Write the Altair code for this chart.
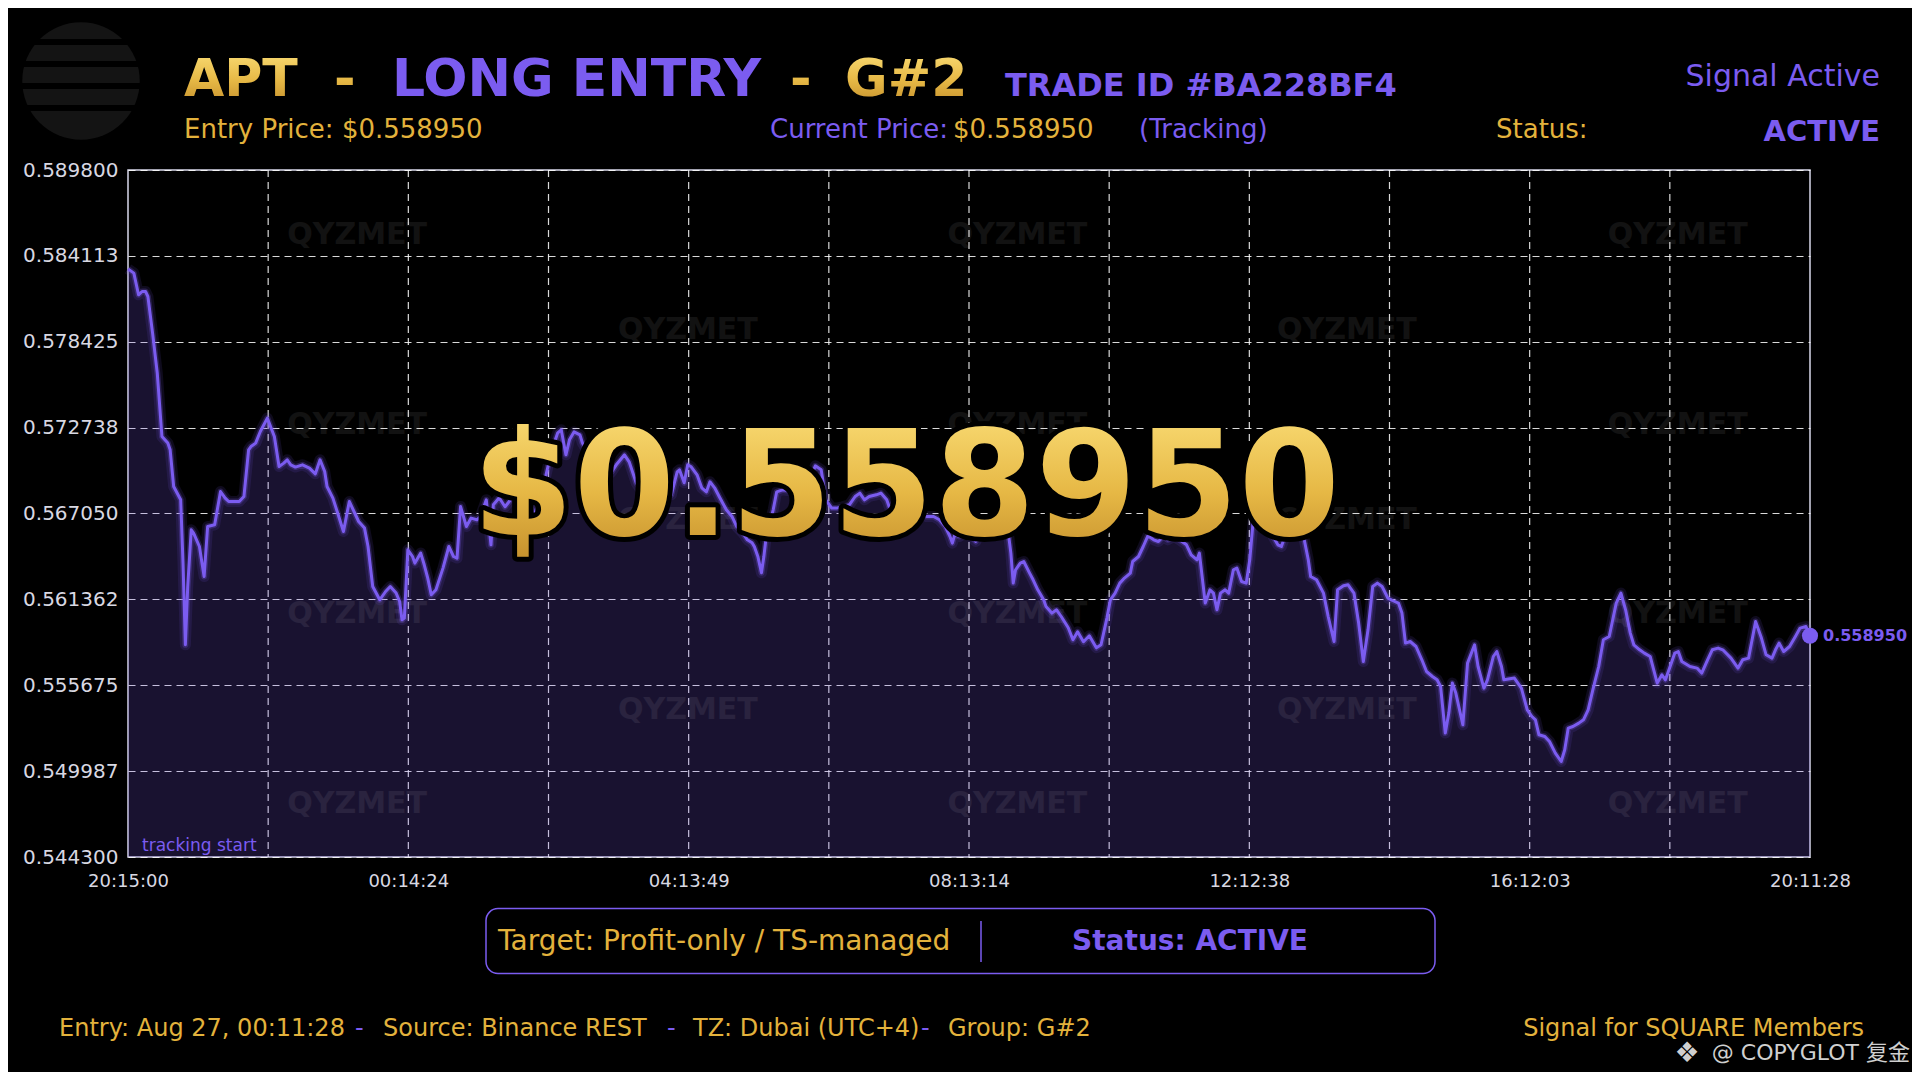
import json
import altair as alt
import pandas as pd

# ---------------- data ----------------
minutes = [
    0, 5, 9, 12, 15, 17, 21, 25, 29, 34,
    36, 39, 45, 47, 49, 51, 54, 56, 61, 65,
    68, 74, 79, 83, 86, 95, 99, 103, 105, 109,
    113, 119, 125, 129, 133, 136, 139, 143, 149, 155,
    160, 164, 168, 170, 175, 180, 184, 189, 193, 197,
    202, 205, 209, 215, 220, 224, 229, 232, 234, 236,
    239, 243, 245, 250, 253, 256, 259, 263, 269, 274,
    278, 281, 284, 289, 293, 298, 301, 306, 310, 312,
    317, 322, 330, 339, 346, 350, 356, 362, 367, 370,
    374, 377, 381, 386, 388, 394, 401, 407, 413, 417,
    424, 428, 434, 441, 450, 458, 464, 469, 471, 475,
    478, 481, 486, 490, 494, 497, 501, 505, 511, 516,
    520, 525, 529, 533, 535, 538, 541, 543, 545, 551,
    554, 559, 565, 574, 582, 587, 592, 596, 601, 605,
    610, 616, 621, 625, 629, 633, 639, 643, 648, 650,
    655, 663, 672, 679, 682, 688, 693, 698, 702, 704,
    706, 710, 716, 720, 724, 726, 732, 740, 747, 752,
    754, 756, 758, 762, 765, 770, 773, 777, 782, 784,
    789, 793, 797, 803, 807, 811, 816, 821, 827, 831,
    836, 839, 843, 847, 851, 856, 858, 863, 867, 871,
    876, 880, 884, 888, 893, 898, 904, 908, 913, 915,
    920, 924, 927, 930, 933, 937, 940, 944, 947, 951,
    955, 958, 961, 965, 969, 974, 978, 982, 985, 988,
    992, 997, 1004, 1008, 1010, 1015, 1021, 1025, 1030, 1033,
    1038, 1042, 1047, 1051, 1055, 1059, 1063, 1067, 1071, 1076,
    1080, 1085, 1088, 1091, 1095, 1100, 1105, 1109, 1114, 1118,
    1121, 1125, 1128, 1131, 1134, 1140, 1144, 1150, 1153, 1158,
    1161, 1166, 1169, 1173, 1175, 1184, 1190, 1195, 1199, 1202,
    1205, 1210, 1214, 1219, 1224, 1227, 1230, 1234, 1239, 1243,
    1247, 1251, 1256, 1260, 1265, 1268, 1271, 1275, 1279, 1283,
    1286, 1291, 1295, 1300, 1303, 1306, 1310, 1313, 1317, 1321,
    1324, 1327, 1334, 1340, 1344, 1349, 1353, 1358, 1362, 1369,
    1375, 1379, 1384, 1390, 1395, 1399, 1404, 1407, 1410, 1414,
    1419, 1424, 1428, 1433, 1436.47,
]

prices = [
    0.583250, 0.582972, 0.581534, 0.581753, 0.581753, 0.581422, 0.578998, 0.576349, 0.572150, 0.571713,
    0.571269, 0.568838, 0.567957, 0.563765, 0.558354, 0.562215, 0.565970, 0.565752, 0.564864, 0.562878,
    0.566189, 0.566302, 0.568507, 0.568070, 0.567845, 0.567845, 0.568176, 0.571269, 0.571487, 0.571713,
    0.572481, 0.573368, 0.572150, 0.570163, 0.570388, 0.570606, 0.570275, 0.570123, 0.570275, 0.570057,
    0.569679, 0.570606, 0.569832, 0.568838, 0.568070, 0.566851, 0.565858, 0.567845, 0.567182, 0.566520,
    0.566083, 0.564864, 0.562215, 0.561334, 0.561884, 0.562215, 0.561778, 0.561222, 0.560010, 0.560123,
    0.564646, 0.564202, 0.563765, 0.564427, 0.563652, 0.562772, 0.561665, 0.561997, 0.563434, 0.564864,
    0.564202, 0.564096, 0.567514, 0.566189, 0.566745, 0.566633, 0.566851, 0.567957, 0.564977, 0.567626,
    0.568090, 0.567494, 0.568288, 0.569282, 0.567295, 0.565970, 0.569282, 0.571269, 0.572395, 0.572593,
    0.570938, 0.571931, 0.572461, 0.572262, 0.571733, 0.570938, 0.569944, 0.569414, 0.569812, 0.570275,
    0.570938, 0.570474, 0.569083, 0.568288, 0.567957, 0.568620, 0.568288, 0.569812, 0.569944, 0.569083,
    0.570275, 0.570143, 0.569613, 0.568752, 0.568487, 0.569150, 0.568752, 0.568156, 0.567295, 0.566831,
    0.566169, 0.565772, 0.565308, 0.565109, 0.564845, 0.564182, 0.563123, 0.564182, 0.565507, 0.567295,
    0.568487, 0.568620, 0.568553, 0.568620, 0.569282, 0.570209, 0.569944, 0.567957, 0.567407, 0.567407,
    0.567494, 0.567626, 0.568176, 0.568401, 0.567957, 0.568176, 0.568288, 0.568401, 0.567957, 0.567514,
    0.567295, 0.567163, 0.567030, 0.566964, 0.566851, 0.566851, 0.566633, 0.566189, 0.565527, 0.565089,
    0.565639, 0.565527, 0.565858, 0.565527, 0.565195, 0.565527, 0.565970, 0.566302, 0.566103, 0.565639,
    0.564427, 0.562440, 0.563321, 0.563765, 0.563871, 0.563103, 0.562659, 0.561997, 0.561334, 0.560891,
    0.560453, 0.560672, 0.560228, 0.559480, 0.558685, 0.559215, 0.558553, 0.558950, 0.558155, 0.558354,
    0.560122, 0.561334, 0.561778, 0.562440, 0.562772, 0.563103, 0.563871, 0.564202, 0.564864, 0.565573,
    0.565308, 0.565195, 0.565527, 0.565308, 0.565527, 0.565308, 0.564977, 0.564315, 0.563983, 0.564427,
    0.561116, 0.561997, 0.561778, 0.560672, 0.561778, 0.561997, 0.561778, 0.563321, 0.563434, 0.562546,
    0.562440, 0.563983, 0.566633, 0.567626, 0.567957, 0.566964, 0.565527, 0.564977, 0.564864, 0.565527,
    0.565970, 0.566302, 0.565527, 0.563983, 0.562878, 0.562659, 0.561778, 0.560228, 0.558573, 0.561997,
    0.562261, 0.562328, 0.561778, 0.559791, 0.557248, 0.559347, 0.562215, 0.562440, 0.562215, 0.561447,
    0.561288, 0.561116, 0.560453, 0.558467, 0.558573, 0.558242, 0.557361, 0.556586, 0.556255, 0.556036,
    0.555592, 0.552506, 0.553830, 0.555817, 0.555155, 0.553056, 0.557142, 0.558354, 0.556917, 0.555486,
    0.556036, 0.557579, 0.557910, 0.556917, 0.556036, 0.556149, 0.555486, 0.554049, 0.553605, 0.553387,
    0.552393, 0.552281, 0.551949, 0.551181, 0.550625, 0.551400, 0.552837, 0.552943, 0.553168, 0.553387,
    0.554049, 0.555374, 0.556917, 0.558685, 0.558904, 0.560010, 0.561116, 0.561778, 0.560672, 0.559129,
    0.558354, 0.558022, 0.557804, 0.557579, 0.556698, 0.555817, 0.556367, 0.556036, 0.556917, 0.557804,
    0.557910, 0.557248, 0.556917, 0.556811, 0.556480, 0.557361, 0.558022, 0.558135, 0.558022, 0.557473,
    0.556811, 0.557361, 0.557473, 0.559897, 0.558798, 0.557692, 0.557473, 0.558022, 0.558467, 0.557910,
    0.558242, 0.558904, 0.559460, 0.559566, 0.558950,
]

y_tick_values = [0.5443, 0.549987, 0.555675, 0.561362, 0.56705, 0.572738, 0.578425, 0.584113, 0.5898]
x_tick_values = [0, 239.412, 478.824, 718.235, 957.647, 1197.059, 1436.47]
x_tick_labels = ["20:15:00", "00:14:24", "04:13:49", "08:13:14", "12:12:38", "16:12:03", "20:11:28"]
x_grid_values = [119.706, 239.412, 359.118, 478.824, 598.529, 718.235,
                 837.941, 957.647, 1077.353, 1197.059, 1316.765]

symbol = "APT"
side = "LONG ENTRY"
group = "G#2"
trade_id = "#BA228BF4"
current_price = 0.558950
entry_price = 0.558950
entry_time = "Aug 27, 00:11:28"
source = "Binance REST"
tz = "Dubai (UTC+4)"

# watermark layout (data units)
wm_minutes = [195.7, 478.1, 759.5, 1041.0, 1323.5]
wm_prices = [0.585508, 0.579177, 0.572925, 0.566606, 0.560361, 0.554036, 0.547791]

# ---------------- styling ----------------
FONT = "DejaVu Sans"
PURPLE = "#7B5CF0"
GOLD = "#E3B23C"
AXIS_LABEL = "#d8d8e2"
W, H = 1682, 687

GOLD_GRAD = alt.Gradient(
    gradient="linear",
    stops=[alt.GradientStop(color="#FCE07A", offset=0),
           alt.GradientStop(color="#E6B845", offset=0.55),
           alt.GradientStop(color="#C28C2A", offset=1)],
    x1=0, x2=0, y1=0, y2=1,
)

df = pd.DataFrame({"m": minutes, "p": prices})

xs = alt.Scale(domain=[0, 1436.47], nice=False, zero=False)
ys = alt.Scale(domain=[0.5443, 0.5898], nice=False, zero=False)

label_expr = f"{json.dumps(x_tick_labels)}[indexof({json.dumps(x_tick_values)}, datum.value)]"
x_axis = alt.Axis(values=x_tick_values, labelExpr=label_expr, grid=False, ticks=False,
                  domain=False, labelFontSize=18, labelColor=AXIS_LABEL, labelFont=FONT,
                  labelPadding=15, labelFlush=False, labelOverlap=False, title=None)
y_axis = alt.Axis(values=y_tick_values, format=".6f", grid=True, gridColor="#ffffff",
                  gridOpacity=0.85, gridDash=[7, 5], gridWidth=1.2, ticks=False,
                  domain=False, labelFontSize=20, labelColor=AXIS_LABEL, labelFont=FONT,
                  labelPadding=10, labelOverlap=False, title=None)

X = alt.X("m:Q", scale=xs, axis=x_axis)
Y = alt.Y("p:Q", scale=ys, axis=y_axis)


def txt(s, x, y, size, color, weight="normal", align="left", font=FONT, baseline="alphabetic", **kw):
    return alt.Chart(pd.DataFrame({"t": [s]})).mark_text(
        align=align, baseline=baseline, font=font, fontSize=size, fontWeight=weight,
        fill=color, **kw
    ).encode(x=alt.value(x), y=alt.value(y), text="t:N")


layers = []

# vertical dashed grid
layers.append(
    alt.Chart(pd.DataFrame({"m": x_grid_values})).mark_rule(
        color="#ffffff", opacity=0.85, strokeDash=[7, 5], strokeWidth=1.2
    ).encode(x=X)
)

# area
layers.append(
    alt.Chart(df).mark_area(color=PURPLE, opacity=0.2).encode(x=X, y=Y, y2=alt.datum(0.5443))
)

# watermarks
wm_rows = []
for i, p in enumerate(wm_prices):
    cols = [0, 2, 4] if i % 2 == 0 else [1, 3]
    for c in cols:
        wm_rows.append({"m": wm_minutes[c], "p": p, "t": "QYZMET"})
layers.append(
    alt.Chart(pd.DataFrame(wm_rows)).mark_text(
        font=FONT, fontWeight="bold", fontSize=30, color="#ffffff", opacity=0.07,
        align="center", baseline="middle"
    ).encode(x=X, y=Y, text="t:N")
)

# line with glow
layers.append(alt.Chart(df).mark_line(color=PURPLE, strokeWidth=11, opacity=0.12,
                                      strokeJoin="round").encode(x=X, y=Y))
layers.append(alt.Chart(df).mark_line(color=PURPLE, strokeWidth=6, opacity=0.25,
                                      strokeJoin="round").encode(x=X, y=Y))
layers.append(alt.Chart(df).mark_line(color=PURPLE, strokeWidth=3,
                                      strokeJoin="round").encode(x=X, y=Y))

# end point + label
last = df.tail(1)
layers.append(alt.Chart(last).mark_circle(size=260, color=PURPLE, opacity=1).encode(x=X, y=Y))
layers.append(
    alt.Chart(last).mark_text(dx=13, align="left", baseline="middle", font=FONT,
                              fontWeight="bold", fontSize=16, color=PURPLE).encode(
        x=X, y=Y, text=alt.Text("p:Q", format=".6f"))
)

# tracking start
layers.append(txt("tracking start", 14, 681, 17, PURPLE))

# big price
big = f"${current_price:.6f}"
layers.append(txt(big, 778, 365, 146, "#000000", weight="bold", align="center",
                  stroke="#000000", strokeWidth=10, strokeJoin="round"))
layers.append(txt(big, 778, 365, 146, GOLD_GRAD, weight="bold", align="center"))

# logo
layers.append(
    alt.Chart(pd.DataFrame({"a": [0]})).mark_point(
        filled=True, shape="circle", size=13800, color="#141414", opacity=1
    ).encode(x=alt.value(-47), y=alt.value(-89))
)
for yy in [-128, -106, -84, -62]:
    layers.append(
        alt.Chart(pd.DataFrame({"a": [0]})).mark_rule(color="#000000", strokeWidth=6).encode(
            x=alt.value(-110), x2=alt.value(16), y=alt.value(yy))
    )

# title row
layers.append(txt(symbol, 56, -74.5, 52, GOLD_GRAD, weight="bold"))
layers.append(txt("-", 206, -74.5, 52, GOLD_GRAD, weight="bold"))
layers.append(txt(side, 264, -74.5, 52, PURPLE, weight="bold"))
layers.append(txt("-", 662, -74.5, 52, GOLD_GRAD, weight="bold"))
layers.append(txt(group, 717, -74.5, 52, GOLD_GRAD, weight="bold"))
layers.append(txt(f"TRADE ID {trade_id}", 877, -74.5, 32, PURPLE, weight="bold"))
layers.append(txt("Signal Active", 1752, -84, 30, PURPLE, align="right"))

# second row
layers.append(txt(f"Entry Price: ${entry_price:.6f}", 56, -31.6, 26, GOLD))
layers.append(txt("Current Price:", 642, -31.6, 26, PURPLE))
layers.append(txt(f"${current_price:.6f}", 825, -31.6, 26, GOLD))
layers.append(txt("(Tracking)", 1011, -31.6, 26, PURPLE))
layers.append(txt("Status:", 1368, -31.6, 26, GOLD))
layers.append(txt("ACTIVE", 1752, -29.2, 29, PURPLE, weight="bold", align="right"))

# status box
layers.append(
    alt.Chart(pd.DataFrame({"a": [0]})).mark_rect(
        fill="#000000", stroke=PURPLE, strokeWidth=1.5, cornerRadius=12
    ).encode(x=alt.value(358), x2=alt.value(1307), y=alt.value(738.6), y2=alt.value(803.5))
)
layers.append(
    alt.Chart(pd.DataFrame({"a": [0]})).mark_rule(color=PURPLE, strokeWidth=1.5).encode(
        x=alt.value(853), y=alt.value(751), y2=alt.value(792))
)
layers.append(txt("Target: Profit-only / TS-managed", 370, 780, 28, GOLD))
layers.append(txt("Status: ACTIVE", 1062, 780, 28, PURPLE, weight="bold", align="center"))

# footer
layers.append(txt(f"Entry: {entry_time}", -69, 866, 24, GOLD))
layers.append(txt("-", 227, 866, 24, PURPLE))
layers.append(txt(f"Source: {source}", 255, 866, 24, GOLD))
layers.append(txt("-", 539, 866, 24, PURPLE))
layers.append(txt(f"TZ: {tz}", 565, 866, 24, GOLD))
layers.append(txt("-", 793, 866, 24, PURPLE))
layers.append(txt(f"Group: {group}", 820, 866, 24, GOLD))
layers.append(txt("Signal for SQUARE Members", 1736, 866, 24, GOLD, align="right"))
layers.append(txt("❖", 1559, 892, 28, "#cfcfcf", align="center"))
layers.append(txt("@ COPYGLOT 复金", 1782, 890, 22, "#cfcfcf", align="right",
                  font="DejaVu Sans, Noto Sans CJK SC"))

chart = alt.layer(*layers).properties(
    width=W,
    height=H,
    background="#000000",
    padding={"left": 120, "top": 162, "right": 102, "bottom": 215},
    autosize=alt.AutoSizeParams(type="none"),
).configure_view(stroke="#d8d8ea", strokeWidth=1.5, fill="#000000")

chart.save("out.html", embed_options={"renderer": "svg", "actions": False})
